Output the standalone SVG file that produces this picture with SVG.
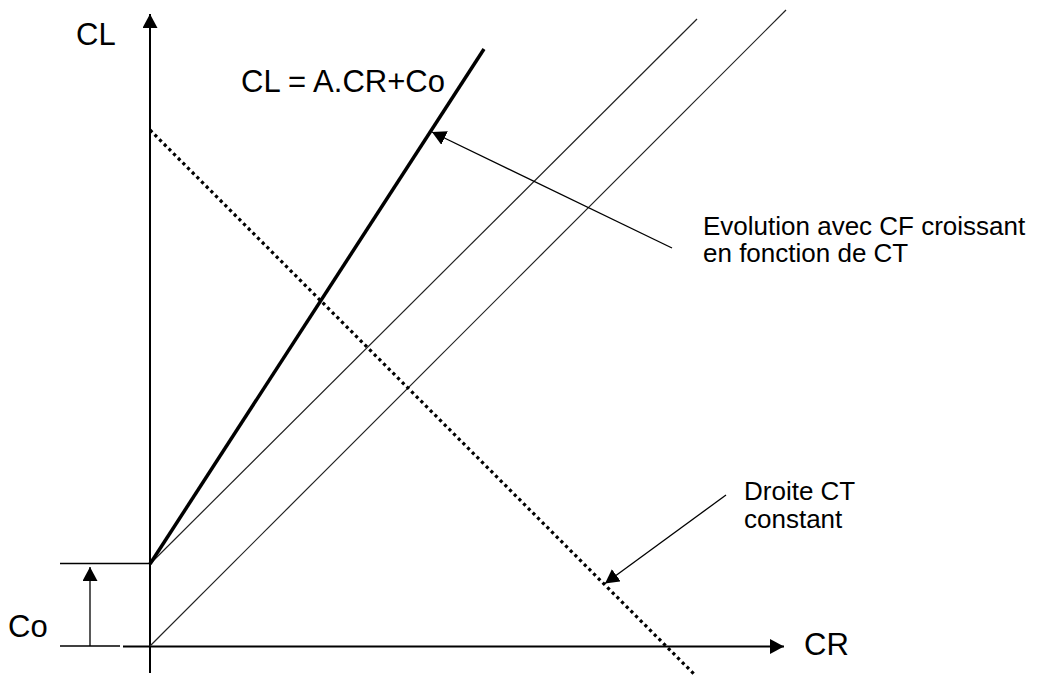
<svg xmlns="http://www.w3.org/2000/svg" width="1039" height="675" viewBox="0 0 1039 675">
  <style>
    .lbl { font-family: "Liberation Sans", Arial, sans-serif; fill: #000; }
    .big { font-size: 31px; }
    .small { font-size: 26px; }
    .axis { stroke: #000; stroke-width: 2; fill: none; }
    .thin { stroke: #222; stroke-width: 1.2; fill: none; }
    .thick { stroke: #000; stroke-width: 3.5; fill: none; }
    .lead { stroke: #000; stroke-width: 1.3; fill: none; }
    .dots { stroke: #000; stroke-width: 3.2; stroke-dasharray: 3.2 3.4; fill: none; }
  </style>
  <defs>
    <marker id="ah" markerUnits="userSpaceOnUse" markerWidth="16" markerHeight="16" refX="14" refY="7.5" orient="auto">
      <path d="M0,0 L14,7.5 L0,15 z" fill="#000"/>
    </marker>
  </defs>
  <rect width="1039" height="675" fill="#fff"/>
  <g id="connectors">
    <line class="axis" x1="150" y1="673" x2="150" y2="14" marker-end="url(#ah)"/>
    <line class="axis" x1="123" y1="646.5" x2="784" y2="646.5" marker-end="url(#ah)"/>
    <line class="thin" x1="150" y1="564" x2="697" y2="19"/>
    <line class="thin" x1="150" y1="646" x2="786" y2="10"/>
    <line class="thick" x1="150" y1="564" x2="484" y2="49"/>
    <line class="dots" x1="150" y1="130" x2="695" y2="675"/>
    <line class="lead" x1="60" y1="563.5" x2="150" y2="563.5"/>
    <line class="lead" x1="60" y1="646" x2="120" y2="646"/>
    <line class="lead" x1="90" y1="646" x2="90" y2="567" marker-end="url(#ah)"/>
    <line class="lead" x1="672" y1="248" x2="432" y2="132" marker-end="url(#ah)"/>
    <line class="lead" x1="726" y1="495" x2="605" y2="583.5" marker-end="url(#ah)"/>
  </g>
  <g id="label-CL"><text class="lbl big" x="76" y="45">CL</text></g>
  <g id="label-equation"><text class="lbl big" x="241" y="92">CL = A.CR+Co</text></g>
  <g id="label-evolution">
    <text class="lbl small" x="703" y="235">Evolution avec CF croissant</text>
    <text class="lbl small" x="703" y="262">en fonction de CT</text>
  </g>
  <g id="label-droite">
    <text class="lbl small" x="744" y="500">Droite CT</text>
    <text class="lbl small" x="744" y="528">constant</text>
  </g>
  <g id="label-CR"><text class="lbl big" x="804" y="655">CR</text></g>
  <g id="label-Co"><text class="lbl big" x="8" y="637">Co</text></g>
</svg>
